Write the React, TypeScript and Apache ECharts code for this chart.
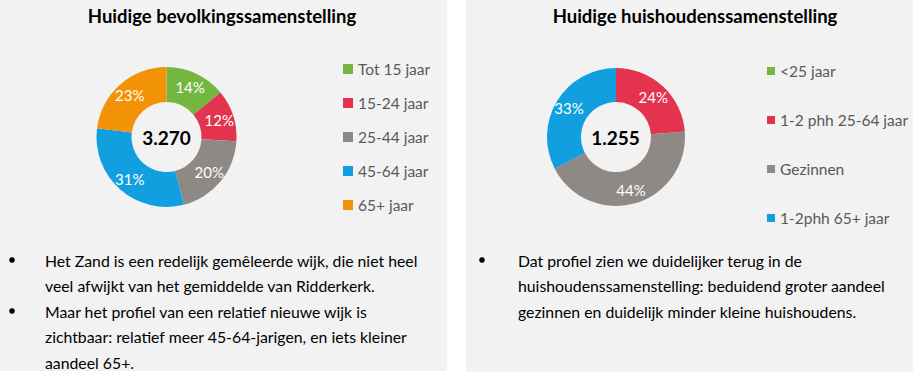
import React, { useEffect, useRef } from "react";
import * as echarts from "echarts";

const FONT = 'Lato, "Noto Sans", sans-serif';

const ageTitle = "Huidige bevolkingssamenstelling";
const ageCategories = ["Tot 15 jaar", "15-24 jaar", "25-44 jaar", "45-64 jaar", "65+ jaar"];
const ageValues = [458, 392, 654, 1014, 752];
const ageColors = ["#74b740", "#e3334e", "#8e8985", "#119fdf", "#f29206"];

const householdTitle = "Huidige huishoudenssamenstelling";
const householdCategories = ["<25 jaar", "1-2 phh 25-64 jaar", "Gezinnen", "1-2phh 65+ jaar"];
const householdValues = [0, 298, 548, 409];
const householdColors = ["#74b740", "#e3334e", "#8e8985", "#119fdf"];

const ageBullets = [
  ["Het Zand is een redelijk gemêleerde wijk, die niet heel", "veel afwijkt van het gemiddelde van Ridderkerk."],
  ["Maar het profiel van een relatief nieuwe wijk is", "zichtbaar: relatief meer 45-64-jarigen, en iets kleiner", "aandeel 65+."],
];
const householdBullets = [
  ["Dat profiel zien we duidelijker terug in de", "huishoudenssamenstelling: beduidend groter aandeel", "gezinnen en duidelijk minder kleine huishoudens."],
];

const sum = (a: number[]) => a.reduce((s, v) => s + v, 0);
const fmtNL = (n: number) => n.toString().replace(/\B(?=(\d{3})+(?!\d))/g, ".");

function bulletGraphics(groups: string[][], bulletX: number, textX: number, startY: number, lineH: number) {
  const els: any[] = [];
  let y = startY;
  groups.forEach((lines) => {
    els.push({ type: "circle", shape: { cx: bulletX, cy: y, r: 2.8 }, style: { fill: "#000" } });
    lines.forEach((line) => {
      els.push({
        type: "text",
        x: textX,
        y,
        style: { text: line, fill: "#000", font: `15.8px ${FONT}`, textAlign: "left", textVerticalAlign: "middle" },
      });
      y += lineH;
    });
  });
  return els;
}

export default function App() {
  const ref = useRef<HTMLDivElement>(null);
  useEffect(() => {
    if (!ref.current) return;
    const chart = echarts.init(ref.current, undefined, { renderer: "svg" });
    const ageTotal = sum(ageValues);
    const hhTotal = sum(householdValues);
    const pct = (total: number) => (p: any) => (p.value > 0 ? Math.round((p.value / total) * 100) + "%" : "");

    const legendBase = {
      orient: "vertical",
      icon: "rect",
      padding: 0,
      selectedMode: false,
      textStyle: { fontFamily: FONT, fontSize: 15.5, color: "#595959", lineHeight: 16 },
      itemGap: 18,
    };

    chart.setOption({
      animation: false,
      backgroundColor: "#ffffff",
      legend: [
        { ...legendBase, data: ageCategories, left: 343, top: 61, itemWidth: 10, itemHeight: 10, itemGap: 18 },
        { ...legendBase, data: householdCategories, left: 767, top: 63, itemWidth: 8, itemHeight: 8, itemGap: 33 },
      ],
      graphic: [
        { type: "rect", shape: { x: 0, y: 0, width: 447, height: 371 }, style: { fill: "#f2f2f2" }, z: -10 },
        { type: "rect", shape: { x: 466, y: 0, width: 447, height: 372 }, style: { fill: "#f2f2f2" }, z: -10 },
        {
          type: "text", x: 222, y: 16,
          style: { text: ageTitle, fill: "#000", font: `bold 18.5px ${FONT}`, textAlign: "center", textVerticalAlign: "middle" },
        },
        {
          type: "text", x: 695, y: 16,
          style: { text: householdTitle, fill: "#000", font: `bold 18.5px ${FONT}`, textAlign: "center", textVerticalAlign: "middle" },
        },
        {
          type: "text", x: 166.5, y: 137,
          style: { text: fmtNL(ageTotal), fill: "#000", font: `bold 19px ${FONT}`, textAlign: "center", textVerticalAlign: "middle" },
        },
        {
          type: "text", x: 615.5, y: 137,
          style: { text: fmtNL(hhTotal), fill: "#000", font: `bold 19px ${FONT}`, textAlign: "center", textVerticalAlign: "middle" },
        },
        ...bulletGraphics(ageBullets, 12, 45, 260, 25.5),
        ...bulletGraphics(householdBullets, 482, 518, 260, 25.5),
      ],
      series: [
        {
          type: "pie",
          center: [166.5, 137],
          radius: [35, 70],
          startAngle: 90,
          clockwise: true,
          avoidLabelOverlap: false,
          label: { show: true, position: "inside", color: "#fff", fontFamily: FONT, fontSize: 15, formatter: pct(ageTotal) },
          labelLine: { show: false },
          emphasis: { disabled: true },
          itemStyle: { borderWidth: 0 },
          data: ageCategories.map((name, i) => ({ name, value: ageValues[i], itemStyle: { color: ageColors[i] } })),
        },
        {
          type: "pie",
          center: [616, 137],
          radius: [35, 69],
          startAngle: 90,
          clockwise: true,
          avoidLabelOverlap: false,
          label: { show: true, position: "inside", color: "#fff", fontFamily: FONT, fontSize: 15, formatter: pct(hhTotal) },
          labelLine: { show: false },
          emphasis: { disabled: true },
          itemStyle: { borderWidth: 0 },
          data: householdCategories.map((name, i) => ({
            name,
            value: householdValues[i],
            itemStyle: { color: householdColors[i] },
            label: householdValues[i] > 0 ? undefined : { show: false },
          })),
        },
      ],
    });
    return () => chart.dispose();
  }, []);
  return <div ref={ref} style={{ position: "fixed", left: 0, top: 0, width: 924, height: 379 }} />;
}
